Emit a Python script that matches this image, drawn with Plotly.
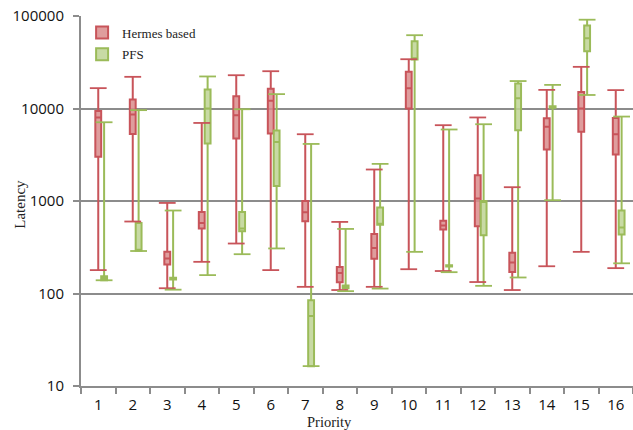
import plotly.graph_objects as go

categories = list(range(1, 17))
tick_labels = [str(c) for c in categories]

hermes_low = [179, 600, 114, 220, 347, 179, 118, 109, 118, 183, 175, 133, 109, 197, 282, 188]
hermes_q1 = [3000, 5300, 206, 505, 4740, 5370, 605, 132, 237, 10000, 492, 535, 171, 3600, 5590, 3180]
hermes_med = [8000, 8600, 239, 580, 8470, 12100, 757, 167, 311, 16600, 543, 1064, 216, 6330, 10000, 5270]
hermes_q3 = [9420, 12500, 282, 762, 13600, 16300, 1000, 194, 441, 24900, 610, 1900, 275, 7850, 15100, 7910]
hermes_high = [16600, 22000, 953, 6980, 22900, 25300, 5270, 594, 2190, 34100, 6600, 8000, 1410, 15900, 28200, 15800]

pfs_low = [139, 288, 110, 158, 266, 307, 16.4, 106, 113, 282, 170, 121, 149, 1020, 14000, 212]
pfs_q1 = [139, 290, 142, 4190, 472, 1455, 16.4, 114, 552, 33900, 196, 426, 5820, 10200, 41600, 434]
pfs_med = [146, 295, 145, 10000, 505, 4350, 57, 118, 560, 35000, 199, 980, 12900, 10400, 57500, 517]
pfs_q3 = [154, 580, 148, 16000, 762, 5780, 84.7, 122, 851, 53500, 202, 1000, 18600, 10600, 78900, 789]
pfs_high = [7100, 9600, 789, 22200, 9820, 14300, 4140, 499, 2520, 62000, 5930, 6760, 19800, 18000, 91200, 8180]

RED_LINE = "#c8545a"
RED_FILL = "rgba(217,140,140,0.85)"
GRN_LINE = "#9bbb59"
GRN_FILL = "rgba(190,212,148,0.85)"
GRID = "#8c8c8c"

BOX_W = 0.17
x_red = [c for c in categories]
x_grn = [c + BOX_W for c in categories]

fig = go.Figure()

def add_series(name, xs, lo, q1, med, q3, hi, line, fill, group):
    fig.add_trace(go.Box(
        name=name, x=xs, q1=q1, median=med, q3=q3,
        lowerfence=lo, upperfence=hi,
        width=BOX_W, whiskerwidth=0, boxpoints=False,
        line=dict(color=line, width=2), fillcolor=fill,
        legendgroup=group, hoverinfo="skip",
    ))
    fig.add_trace(go.Scatter(
        x=xs + xs, y=lo + hi, mode="markers",
        marker=dict(symbol="line-ew", size=12, line=dict(color=line, width=1.8)),
        showlegend=False, legendgroup=group, hoverinfo="skip",
    ))

add_series("Hermes based", x_red, hermes_low, hermes_q1, hermes_med, hermes_q3, hermes_high,
           RED_LINE, RED_FILL, "h")
add_series("PFS", x_grn, pfs_low, pfs_q1, pfs_med, pfs_q3, pfs_high,
           GRN_LINE, GRN_FILL, "p")

boundaries = [c - 0.5 for c in categories] + [categories[-1] + 0.5]

fig.update_layout(
    width=633, height=430,
    margin=dict(l=81, r=0, t=16, b=44),
    paper_bgcolor="white", plot_bgcolor="white",
    boxmode="overlay",
    showlegend=True,
    legend=dict(x=0.002, y=0.996, xanchor="left", yanchor="top",
                itemwidth=30,
                font=dict(family="Liberation Serif", size=13, color="#222"),
                tracegroupgap=2, bgcolor="rgba(0,0,0,0)"),
    xaxis=dict(
        range=[0.5, 16.5], tickvals=categories, ticktext=tick_labels,
        ticks="", showgrid=False, zeroline=False,
        showline=True, linecolor=GRID, linewidth=2,
        tickfont=dict(family="Open Sans", size=15, color="#111"),
        ticklabelstandoff=4,
        minor=dict(tickvals=boundaries, ticks="outside", ticklen=6,
                   tickwidth=2, tickcolor=GRID, showgrid=False),
    ),
    yaxis=dict(
        type="log", range=[1, 5],
        tickvals=[10, 100, 1000, 10000, 100000],
        ticktext=["10", "100", "1000", "10000", "100000"],
        showgrid=True, gridcolor=GRID, gridwidth=2,
        ticks="outside", ticklen=6, tickwidth=2, tickcolor=GRID,
        showline=True, linecolor=GRID, linewidth=2, zeroline=False,
        tickfont=dict(family="Open Sans", size=15, color="#111"),
        ticklabelstandoff=6,
    ),
    annotations=[
        dict(text="Priority", xref="paper", yref="paper", x=0.45, y=-0.0,
             yshift=-35.5, showarrow=False, xanchor="center", yanchor="middle",
             font=dict(family="Liberation Serif", size=14.5, color="#222")),
        dict(text="Latency", xref="paper", yref="paper", x=0, xshift=-61, y=0.49,
             showarrow=False, textangle=-90, xanchor="center", yanchor="middle",
             font=dict(family="Liberation Serif", size=15, color="#222")),
    ],
)

fig.write_html("out.html")
